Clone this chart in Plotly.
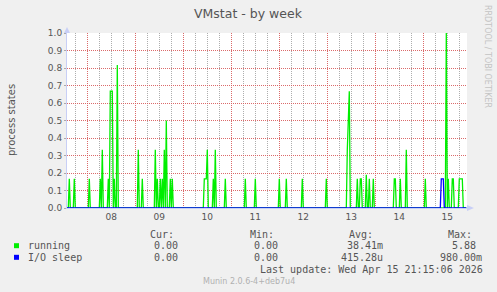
import pandas as pd
import plotly.graph_objects as go

# ---------------- data (hours relative to 2026-04-08 00:00, 30-min resolution) ----------------
running_hours = [-9.0, -6.5, 1.0, 6.5, 7.5, 10.5, 11.5, 12.0, 12.5, 13.5, 15.0,
                 25.5, 27.5, 34.0, 35.0, 36.5, 37.5, 38.5, 39.5, 41.5, 42.5,
                 58.5, 59.0, 59.5, 60.0, 63.0, 64.0, 69.0, 79.0, 84.0, 96.0, 99.5,
                 107.5, 119.5, 130.0, 130.5, 131.0, 135.0, 136.5, 137.0, 139.5,
                 141.0, 143.0, 153.5, 154.0, 156.5, 159.5, 169.0, 179.5, 180.5,
                 182.5, 183.0, 186.0, 186.5, 187.0, 187.5]
running_vals = [0.167, 0.167, 0.167, 0.167, 0.333, 0.167, 0.667, 0.667, 0.667, 0.167, 0.817,
                0.333, 0.167, 0.333, 0.167, 0.167, 0.167, 0.333, 0.5, 0.167, 0.167,
                0.167, 0.167, 0.167, 0.333, 0.167, 0.333, 0.167, 0.167, 0.167, 0.167, 0.167,
                0.167, 0.167, 0.333, 0.5, 0.667, 0.167, 0.167, 0.167, 0.19,
                0.167, 0.167, 0.167, 0.167, 0.167, 0.333, 0.167, 1.0, 0.167,
                0.167, 0.167, 0.167, 0.167, 0.167, 0.167]
io_hours = [177.0, 177.5, 178.0]
io_vals = [0.167, 0.167, 0.167]

series_names = ["running", "I/O sleep"]
series_colors = ["#00ee00", "#0000ff"]
cur_vals = ["0.00", "0.00"]
min_vals = ["0.00", "0.00"]
avg_vals = ["38.41m", "415.28u"]
max_vals = ["5.88", "980.00m"]
last_update = "Last update: Wed Apr 15 21:15:06 2026"
version_text = "Munin 2.0.6-4+deb7u4"

t0 = pd.Timestamp("2026-04-08 00:00")
grid_hours = [h / 2 for h in range(-21, 380)]


def build(hours, vals):
    lookup = dict(zip(hours, vals))
    xs = [t0 + pd.Timedelta(hours=h) for h in grid_hours]
    ys = [lookup.get(h, 0.0) for h in grid_hours]
    return xs, ys


fig = go.Figure()
for (hrs, vls), name, col in zip([(running_hours, running_vals), (io_hours, io_vals)],
                                 series_names, series_colors):
    xs, ys = build(hrs, vls)
    fig.add_trace(go.Scatter(x=xs, y=ys, mode="lines", name=name,
                             line=dict(color=col, width=1.3), showlegend=False))

start = t0 - pd.Timedelta(hours=10.15)
end = start + pd.Timedelta(hours=200)

L, T, W, H = 67, 33, 400, 175
FIG_W, FIG_H = 497, 292


def xp(p):
    return (p - L) / W


def yp(p):
    return (T + H - p) / H


red_grid = "rgba(215,90,90,0.9)"
gray_grid = "rgba(160,160,160,0.85)"
axis_col = "#c8cff6"
dash = "1px,1px"

fig.update_layout(
    width=FIG_W, height=FIG_H,
    margin=dict(l=L, r=FIG_W - L - W, t=T, b=FIG_H - T - H),
    paper_bgcolor="#f0f0f0", plot_bgcolor="#ffffff",
    font=dict(family="DejaVu Sans", size=9, color="#555555"),
    xaxis=dict(type="date", range=[start, end], dtick=86400000, tick0="2026-04-08",
               tickformat="%d", ticklabelmode="period", ticks="",
               showgrid=True, gridcolor=red_grid, griddash=dash, gridwidth=1,
               minor=dict(dtick=6 * 3600000, showgrid=True, gridcolor=gray_grid,
                          griddash=dash, gridwidth=1),
               showline=True, linecolor=axis_col, linewidth=1, zeroline=False,
               tickfont=dict(size=9, color="#555555")),
    yaxis=dict(range=[0, 1.0], dtick=0.1, tickformat=".1f", showgrid=True,
               gridcolor=red_grid, griddash=dash, gridwidth=1, zeroline=False,
               showline=True, linecolor=axis_col, linewidth=1,
               ticks="outside", ticklen=2, tickcolor="#aaaaaa",
               tickfont=dict(size=9, color="#555555")),
)

ann = []


def add_text(text, x, y, anchor="left", size=10, color="#555555", family="DejaVu Sans Mono", angle=0):
    ann.append(dict(text=text, x=xp(x), y=yp(y), xref="paper", yref="paper",
                    xanchor=anchor, yanchor="middle", showarrow=False,
                    borderpad=0, textangle=angle,
                    font=dict(size=size, color=color, family=family)))


add_text("VMstat - by week", 248.5, 13.5, anchor="center", size=12.5, family="DejaVu Sans")
ann.append(dict(text="process states", x=xp(11), y=yp(120), xref="paper", yref="paper",
                xanchor="center", yanchor="middle", showarrow=False, textangle=-90,
                font=dict(size=10, color="#555555", family="DejaVu Sans")))
ann.append(dict(text="RRDTOOL / TOBI OETIKER", x=xp(488), y=yp(56), xref="paper", yref="paper",
                xanchor="center", yanchor="middle", showarrow=False, textangle=90,
                font=dict(size=8, color="#c4c4c4", family="DejaVu Sans")))

headers = ["Cur:", "Min:", "Avg:", "Max:"]
header_x = [149, 249, 348, 447]
col_right = [185, 285, 384, 483]
for htxt, hx in zip(headers, header_x):
    add_text(htxt, hx, 234)

row_y = [245.7, 257.3]
for i, name in enumerate(series_names):
    add_text(name, 27, row_y[i])
    for vals, cr in zip([cur_vals, min_vals, avg_vals, max_vals], col_right):
        v = vals[i]
        if v[-1].isdigit():
            v = v + "\u00a0"
        add_text(v, cr, row_y[i], anchor="right")
    fig.add_shape(type="rect", xref="paper", yref="paper",
                  x0=xp(14), x1=xp(19), y0=yp(row_y[i] + 2.5), y1=yp(row_y[i] - 2.5),
                  line=dict(width=0), fillcolor=series_colors[i])

add_text(last_update, 483.5, 269.7, anchor="right")
add_text(version_text, 248.5, 281.7, anchor="center", size=8, color="#b0b0b0", family="DejaVu Sans")

fig.update_layout(annotations=ann)

# axis arrows
fig.add_shape(type="path", xref="paper", yref="paper",
              path=f"M {xp(64)} {yp(33)} L {xp(70)} {yp(33)} L {xp(67)} {yp(27)} Z",
              fillcolor=axis_col, line=dict(width=0))
fig.add_shape(type="path", xref="paper", yref="paper",
              path=f"M {xp(467)} {yp(205)} L {xp(467)} {yp(211)} L {xp(474)} {yp(208)} Z",
              fillcolor=axis_col, line=dict(width=0))

fig.write_html("out.html")
